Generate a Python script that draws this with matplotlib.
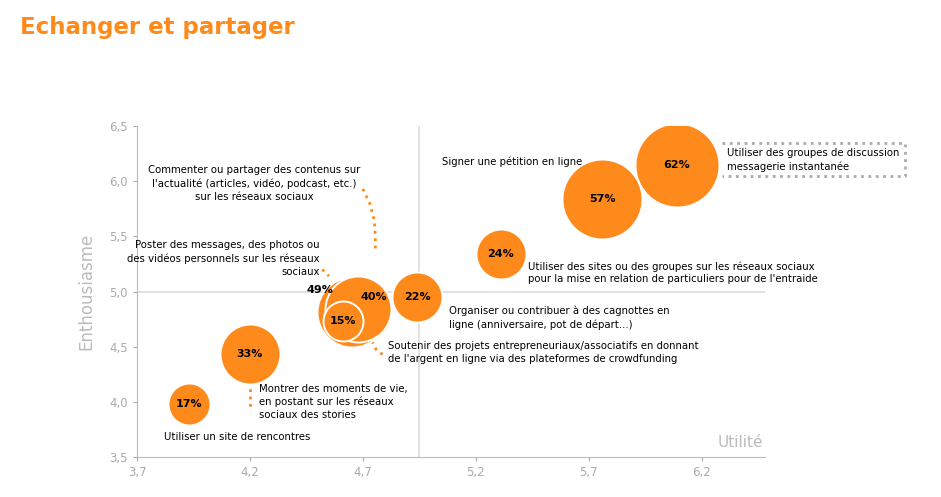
import matplotlib
matplotlib.use("Agg")
import matplotlib.pyplot as plt

labels_pct = ["62%", "57%", "24%", "22%", "49%", "40%", "15%", "33%", "17%"]
utilite = [6.09, 5.76, 5.31, 4.94, 4.65, 4.68, 4.61, 4.20, 3.93]
enthousiasme = [6.15, 5.84, 5.34, 4.95, 4.81, 4.84, 4.73, 4.43, 3.98]
radius_px = [42, 40, 25, 25, 35, 33, 20, 30, 21]
xticks = [3.7, 4.2, 4.7, 5.2, 5.7, 6.2]
yticks = [3.5, 4.0, 4.5, 5.0, 5.5, 6.0, 6.5]

ORANGE = "#FF8A1C"
GREY = "#BBBBBB"

fig = plt.figure(figsize=(9.41, 4.97), dpi=100)
ax = fig.add_axes([137/941, 40/497, (765-137)/941, (457-126)/497])
ax.set_xlim(3.7, 6.48)
ax.set_ylim(3.5, 6.5)

sizes = [(2*r*0.72)**2 for r in radius_px]
for i in range(len(utilite)):
    ax.scatter(utilite[i], enthousiasme[i], s=sizes[i], color=ORANGE, edgecolor="white", linewidth=1.4, zorder=3)

for i, t in enumerate(labels_pct):
    if t == "49%":
        ax.text(4.51, 5.01, t, fontsize=8, fontweight="bold", ha="center", va="center", zorder=5)
    elif t == "40%":
        ax.text(4.75, 4.95, t, fontsize=8, fontweight="bold", ha="center", va="center", zorder=5)
    else:
        ax.text(utilite[i], enthousiasme[i], t, fontsize=8, fontweight="bold", ha="center", va="center", zorder=5)

ax.axvline(4.95, color="#DDDDDD", lw=1.2, zorder=1)
ax.axhline(5.0, color="#DDDDDD", lw=1.2, zorder=1)

ax.set_xticks(xticks)
ax.set_yticks(yticks)
ax.set_xticklabels([f"{v:.1f}".replace(".", ",") for v in xticks])
ax.set_yticklabels([f"{v:.1f}".replace(".", ",") for v in yticks])
ax.tick_params(colors="#AAAAAA", labelsize=8.5, length=3)
for s in ["top", "right"]:
    ax.spines[s].set_visible(False)
for s in ["left", "bottom"]:
    ax.spines[s].set_color(GREY)
ax.set_ylabel("Enthousiasme", color="#BBBBBB", fontsize=12, labelpad=10)
ax.text(6.37, 3.56, "Utilité", color="#BBBBBB", fontsize=11, ha="center", va="bottom")

fs = 7.3
ax.text(4.22, 5.98, "Commenter ou partager des contenus sur\nl'actualité (articles, vidéo, podcast, etc.)\nsur les réseaux sociaux",
        fontsize=fs, ha="center", va="center", linespacing=1.35)
ax.plot([4.70, 4.73, 4.75, 4.755, 4.755], [5.93, 5.80, 5.65, 5.50, 5.37], ls=":", color=ORANGE, lw=2)
ax.text(4.51, 5.30, "Poster des messages, des photos ou\ndes vidéos personnels sur les réseaux\nsociaux",
        fontsize=fs, ha="right", va="center", linespacing=1.35, multialignment="right")
ax.plot([4.52, 4.55], [5.20, 5.14], ls=":", color=ORANGE, lw=2)
ax.text(5.05, 6.18, "Signer une pétition en ligne", fontsize=fs, ha="left", va="center")
ax.text(6.31, 6.19, "Utiliser des groupes de discussion\nmessagerie instantanée", fontsize=fs, ha="left", va="center", linespacing=1.35)
ax.plot([6.29, 7.1, 7.1, 6.29], [6.35, 6.35, 6.05, 6.05], ls=":", color="#AAAAAA", lw=2, clip_on=False)
ax.text(5.43, 5.17, "Utiliser des sites ou des groupes sur les réseaux sociaux\npour la mise en relation de particuliers pour de l'entraide",
        fontsize=fs, ha="left", va="center", linespacing=1.35)
ax.text(5.08, 4.76, "Organiser ou contribuer à des cagnottes en\nligne (anniversaire, pot de départ...)",
        fontsize=fs, ha="left", va="center", linespacing=1.35)
ax.text(4.81, 4.45, "Soutenir des projets entrepreneuriaux/associatifs en donnant\nde l'argent en ligne via des plateformes de crowdfunding",
        fontsize=fs, ha="left", va="center", linespacing=1.35)
ax.plot([4.74, 4.76, 4.80], [4.55, 4.47, 4.41], ls=":", color=ORANGE, lw=2)
ax.text(4.24, 4.0, "Montrer des moments de vie,\nen postant sur les réseaux\nsociaux des stories",
        fontsize=fs, ha="left", va="center", linespacing=1.35)
ax.plot([4.2, 4.2], [4.25, 3.92], ls=":", color=ORANGE, lw=2)
ax.text(3.82, 3.68, "Utiliser un site de rencontres", fontsize=fs, ha="left", va="center")

fig.text(0.021, 0.945, "Echanger et partager", color=ORANGE, fontsize=16.5, fontweight="bold", ha="left", va="center")

fig.savefig("out.png", dpi=100)
